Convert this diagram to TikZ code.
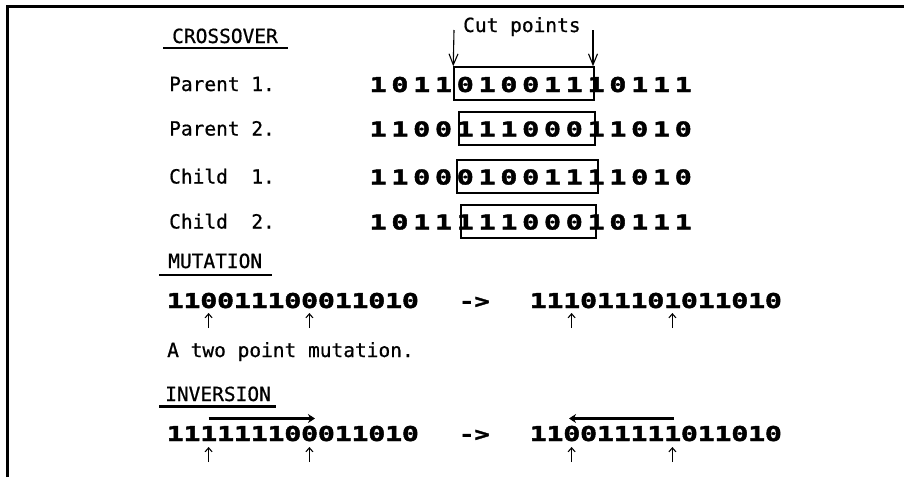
\documentclass[tikz,border=0pt]{standalone}
\usepackage{fontspec}
\usepackage{graphicx}
\usetikzlibrary{arrows.meta}
\newfontfamily\lblfont{DejaVu Sans Mono}[FakeBold=0.7]
\newfontfamily\bitfont{DejaVu Sans Mono Bold}[FakeBold=1.8]
\newlength\bitpitch
\def\bitsloop#1{\ifx#1\relax\else\makebox[\bitpitch]{\scalebox{1.45}[1.05]{#1}}\expandafter\bitsloop\fi}
\newcommand\bitstr[2]{\setlength\bitpitch{#1pt}\bitsloop#2\relax}
\tikzset{
  lbl/.style={font=\lblfont\fontsize{19.5}{20}\selectfont, inner sep=0pt, anchor=base west},
  bits/.style={font=\bitfont\fontsize{19.5}{20}\selectfont, inner sep=0pt, anchor=base west},
  cutbox/.style={draw, line width=1.5pt, inner sep=0pt},
  uline/.style={line width=2.2pt},
  cutarrow/.style={line width=1.1pt, -{Straight Barb[length=11pt,width=9pt]}},
  uparrow/.style={line width=1.1pt, -{Straight Barb[length=4pt,width=7pt]}},
  invarrow/.style={line width=2.2pt, -{Stealth[length=7pt,width=9pt]}},
  frameline/.style={line width=3pt}
}
\begin{document}
\begin{tikzpicture}[x=1pt,y=-1pt]
\useasboundingbox (0,0) rectangle (904,477);
\draw[frameline] (7.8,477) -- (7.8,6) -- (904,6);

% CROSSOVER
\node[lbl] (hcross) at (172,43) {CROSSOVER};
\draw[uline] (163,48) -- (288,48);
\node[lbl] (cutlbl) at (463,32) {Cut points};

\node[lbl] (lp1) at (169,91) {Parent 1.};
\node[lbl] (lp2) at (169,135.5) {Parent 2.};
\node[lbl] (lc1) at (169,183.5) {Child\ \ 1.};
\node[lbl] (lc2) at (169,228.5) {Child\ \ 2.};

\node[bits] (p1) at (367,92) {\bitstr{21.8}{101101001110111}};
\node[bits] (p2) at (367,136.5) {\bitstr{21.8}{110011100011010}};
\node[bits] (c1) at (367,184.5) {\bitstr{21.8}{110001001111010}};
\node[bits] (c2) at (367,229.5) {\bitstr{21.8}{101111100010111}};

\node[cutbox, minimum width=140pt, minimum height=33pt] (b1) at (524,83.5) {};
\node[cutbox, minimum width=136pt, minimum height=33pt] (b2) at (527,128.5) {};
\node[cutbox, minimum width=141pt, minimum height=33pt] (b3) at (527.5,176.5) {};
\node[cutbox, minimum width=135pt, minimum height=33pt] (b4) at (528.5,221.5) {};

\coordinate (cutL) at (454,30);
\coordinate (cutR) at (593,30);
\draw[cutarrow] (cutL) -- (b1.north west);
\draw[cutarrow] (cutR) -- (cutR |- b1.north);

% MUTATION
\node[lbl] (hmut) at (168,268) {MUTATION};
\draw[uline] (159,275) -- (272,275);
\node[bits] (m1) at (166.6,308) {\bitstr{16.8}{110011100011010}};
\node[bits] (marr) at (459,308) {\scalebox{1.3}[1]{->}};
\node[bits] (m2) at (529.6,308) {\bitstr{16.8}{111011101011010}};
\coordinate (mu1a) at (208.6,328); \coordinate (mu1b) at (208.6,313);
\coordinate (mu2a) at (309.4,328); \coordinate (mu2b) at (309.4,313);
\coordinate (mu3a) at (571.6,328); \coordinate (mu3b) at (571.6,313);
\coordinate (mu4a) at (672.4,328); \coordinate (mu4b) at (672.4,313);
\draw[uparrow] (mu1a) -- (mu1b);
\draw[uparrow] (mu2a) -- (mu2b);
\draw[uparrow] (mu3a) -- (mu3b);
\draw[uparrow] (mu4a) -- (mu4b);
\node[lbl] (mtxt) at (167,357) {A two point mutation.};

% INVERSION
\node[lbl] (hinv) at (165,401) {INVERSION};
\draw[uline] (159,406.5) -- (276,406.5);
\node[bits] (i1) at (166.6,441) {\bitstr{16.8}{111111100011010}};
\node[bits] (iarr) at (459,441) {\scalebox{1.3}[1]{->}};
\node[bits] (i2) at (529.6,441) {\bitstr{16.8}{110011111011010}};
\coordinate (ia1) at (208.6,418.5); \coordinate (ia2) at (315,418.5);
\coordinate (ib1) at (674,418.5); \coordinate (ib2) at (569,418.5);
\draw[invarrow] (ia1) -- (ia2);
\draw[invarrow] (ib1) -- (ib2);
\coordinate (iu1a) at (208.6,462); \coordinate (iu1b) at (208.6,447);
\coordinate (iu2a) at (309.4,462); \coordinate (iu2b) at (309.4,447);
\coordinate (iu3a) at (571.6,462); \coordinate (iu3b) at (571.6,447);
\coordinate (iu4a) at (672.4,462); \coordinate (iu4b) at (672.4,447);
\draw[uparrow] (iu1a) -- (iu1b);
\draw[uparrow] (iu2a) -- (iu2b);
\draw[uparrow] (iu3a) -- (iu3b);
\draw[uparrow] (iu4a) -- (iu4b);
\end{tikzpicture}
\end{document}
